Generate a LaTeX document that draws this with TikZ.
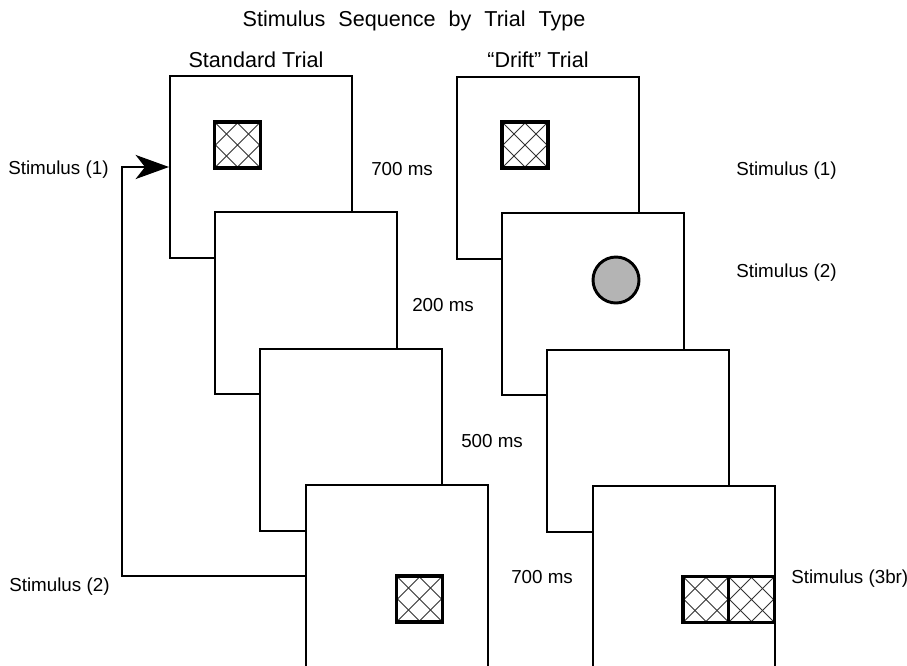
\documentclass[tikz,border=0pt]{standalone}
\usepackage{fontspec}
\setmainfont{Liberation Sans}
\usetikzlibrary{arrows.meta}
\definecolor{discgray}{RGB}{180,180,180}

\tikzset{
  frame/.style={draw, line width=1.5pt, fill=white, minimum width=136.5pt, minimum height=136.5pt, inner sep=0pt},
  xbox/.style={draw, line width=2.6pt, fill=white, minimum size=34.5pt, inner sep=0pt,
    path picture={\foreach \c in {-44,-22,0,22,44} {
      \draw[line width=0.7pt, black!80, shift={(path picture bounding box.center)}]
        (\c-30,-30) -- (\c+30,30) (\c-30,30) -- (\c+30,-30);}}},
  disc/.style={circle, draw, line width=2.2pt, fill=discgray, minimum size=34.5pt, inner sep=0pt},
  lbl/.style={font=\fontsize{14.1}{16}\selectfont, anchor=base west, inner sep=0pt},
  head/.style={font=\fontsize{16.2}{19}\selectfont, anchor=base, inner sep=0pt},
  loopline/.style={line width=1.9pt, -{Stealth[length=25pt, width=18pt, inset=7pt]}}
}

\begin{document}
\begin{tikzpicture}[x=0.75pt, y=-0.75pt]
  \clip (0,0) rectangle (907,665);

  % Headings
  \node[head] (title) at (414, 26) {Stimulus\hspace{0.6em}Sequence\hspace{0.6em}by\hspace{0.6em}Trial\hspace{0.6em}Type};
  \node[head] (headstd) at (256, 67) {Standard Trial};
  \node[head] (headdrift) at (538, 67) {``Drift'' Trial};

  % Standard trial frames
  \node[frame] (std1) at (261, 167) {};
  \node[xbox] (xstd1) at (237.5, 145) {};
  \node[frame] (std2) at (306, 303) {};
  \node[frame] (std3) at (351, 440) {};
  \node[frame] (std4) at (397, 576) {};
  \node[xbox] (xstd4) at (419.5, 599) {};

  % Drift trial frames
  \node[frame] (drift1) at (548, 168) {};
  \node[xbox] (xdrift1) at (525, 145) {};
  \node[frame] (drift2) at (593, 304) {};
  \node[disc] (disc2) at (616, 280) {};
  \node[frame] (drift3) at (638, 441) {};
  \node[frame] (drift4) at (684, 577) {};
  \node[xbox] (xdrift4a) at (706, 599.5) {};
  \node[xbox] (xdrift4b) at (751.5, 599.5) {};

  % Loop back from the last frame to the first
  \draw[loopline] (std4.west) -- ++(-183,0) |- (std1.west);

  % Left labels
  \node[lbl] (in1) at (8, 174) {Stimulus (1)};
  \node[lbl] (in2) at (9, 591) {Stimulus (2)};

  % Durations
  \node[lbl] (t1) at (371, 175) {700 ms};
  \node[lbl] (t2) at (412, 311) {200 ms};
  \node[lbl] (t3) at (461, 447) {500 ms};
  \node[lbl] (t4) at (511, 583.5) {700 ms};

  % Right labels
  \node[lbl] (out1) at (736, 175) {Stimulus (1)};
  \node[lbl] (out2) at (736, 277) {Stimulus (2)};
  \node[lbl] (out3) at (791, 583) {Stimulus (3br)};
\end{tikzpicture}
\end{document}
